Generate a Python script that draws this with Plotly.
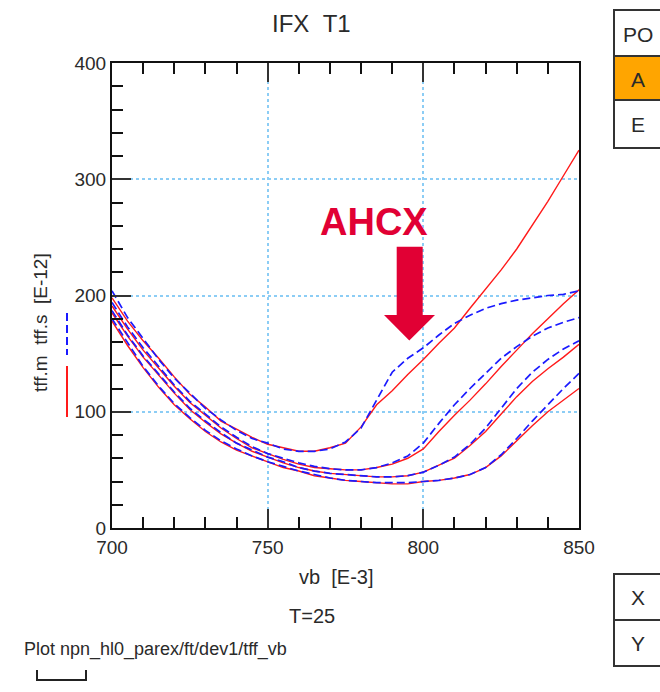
import plotly.graph_objects as go

# ---------------- data ----------------
vb = [700, 705, 710, 715, 720, 725, 730, 735, 740, 745, 750, 755, 760, 765, 770, 775,
      780, 785, 790, 795, 800, 805, 810, 815, 820, 825, 830, 835, 840, 845, 850]

tff_m_1 = [198, 178, 161, 146, 130, 115, 104, 92, 85, 78, 72, 69, 66, 66, 69, 73,
           87, 106, 118, 132, 145, 159, 172, 189, 205, 222, 240, 260, 281, 303, 325]
tff_s_1 = [204, 181, 163, 145, 129, 116, 103, 93, 84, 77, 73, 68, 66, 66, 68, 74,
           86, 110, 134, 146, 155, 166, 176, 183, 189, 193, 196, 198, 200, 201, 204]

tff_m_2 = [191, 171, 153, 137, 122, 108, 97, 86, 77, 69, 64, 59, 55, 52, 51, 50,
           50, 52, 55, 60, 68, 83, 97, 110, 124, 139, 153, 167, 180, 193, 205]
tff_s_2 = [194, 173, 155, 139, 123, 109, 98, 87, 78, 70, 64, 60, 56, 53, 51, 50,
           50, 52, 56, 62, 73, 90, 106, 120, 133, 146, 156, 165, 172, 177, 181]

tff_m_3 = [185, 165, 147, 131, 116, 102, 91, 81, 73, 66, 61, 56, 52, 49, 47, 46,
           45, 44, 44, 45, 48, 54, 60, 71, 83, 98, 113, 126, 137, 147, 158]
tff_s_3 = [187, 166, 148, 132, 117, 103, 92, 82, 73, 67, 61, 57, 52, 49, 47, 46,
           45, 44, 44, 45, 48, 54, 61, 72, 86, 103, 120, 134, 145, 154, 161]

tff_m_4 = [178, 157, 138, 121, 106, 94, 83, 74, 67, 62, 57, 52, 49, 45, 43, 41,
           40, 39, 38, 38, 40, 41, 43, 46, 52, 62, 75, 88, 100, 110, 120]
tff_s_4 = [180, 159, 139, 122, 107, 95, 84, 75, 68, 62, 57, 53, 49, 46, 43, 41,
           40, 39, 39, 39, 40, 41, 43, 46, 52, 63, 77, 92, 106, 120, 133]

measured = [tff_m_1, tff_m_2, tff_m_3, tff_m_4]
simulated = [tff_s_1, tff_s_2, tff_s_3, tff_s_4]

x_ticks = [700, 750, 800, 850]
y_ticks = [0, 100, 200, 300, 400]

# ---------------- layout geometry helpers ----------------
W, H = 660, 692
L, R, T, B = 112, 81, 63, 164
PW, PH = W - L - R, H - T - B


def px(x):
    return (x - L) / PW


def py(y):
    return (H - B - y) / PH


FONT = "Liberation Sans, Arial, Helvetica, sans-serif"
TXT = "#2a2a2a"
RED = "#ff1a1a"
BLUE = "#1a1aff"
CRIMSON = "#e10034"

fig = go.Figure()

for m in measured:
    fig.add_trace(go.Scatter(x=vb, y=m, mode="lines", line=dict(color=RED, width=1.4),
                             showlegend=False, hoverinfo="skip"))
for s in simulated:
    fig.add_trace(go.Scatter(x=vb, y=s, mode="lines",
                             line=dict(color=BLUE, width=1.7, dash="8px,4px"),
                             showlegend=False, hoverinfo="skip"))

axis_common = dict(
    showline=True, linecolor="#111", linewidth=2,
    ticks="inside", tickcolor="#333", tickwidth=1.5, ticklen=19,
    showgrid=True, gridcolor="#8ccdf5", gridwidth=1.5, griddash="dot",
    zeroline=False,
    tickfont=dict(family=FONT, size=19, color=TXT),
)

fig.update_xaxes(**axis_common, range=[700, 850], tickvals=x_ticks,
                 mirror="ticks", ticklabelstandoff=1,
                 minor=dict(dtick=10, ticks="inside", ticklen=11, tickwidth=2,
                            tickcolor="#111", showgrid=False))
fig.update_yaxes(**axis_common, range=[0, 400], tickvals=y_ticks,
                 mirror=True, ticklabelstandoff=0,
                 minor=dict(dtick=20, ticks="inside", ticklen=11, tickwidth=2,
                            tickcolor="#111", showgrid=False))

shapes = []
annotations = []

# arrow (AHCX)
arrow_path = (f"M {px(396.7)},{py(246.7)} L {px(422.7)},{py(246.7)} "
              f"L {px(422.7)},{py(315)} L {px(435)},{py(315)} "
              f"L {px(409.3)},{py(340.5)} L {px(384)},{py(315)} "
              f"L {px(396.7)},{py(315)} Z")
shapes.append(dict(type="path", xref="paper", yref="paper", path=arrow_path,
                   fillcolor=CRIMSON, line=dict(width=0)))
annotations.append(dict(text="<b>AHCX</b>", x=px(373.5), y=py(222), xref="paper", yref="paper",
                        showarrow=False, xanchor="center", yanchor="middle",
                        font=dict(family=FONT, size=38, color=CRIMSON)))

# y-axis title and legend glyphs
annotations.append(dict(text="tff.m\u00a0\u00a0tff.s\u00a0\u00a0[E-12]", textangle=-90,
                        x=px(40), y=py(323), xref="paper", yref="paper", showarrow=False,
                        xanchor="center", yanchor="middle",
                        font=dict(family=FONT, size=19, color=TXT)))
shapes.append(dict(type="line", xref="paper", yref="paper", x0=px(67), x1=px(67),
                   y0=py(313), y1=py(355), line=dict(color=BLUE, width=2, dash="8px,4px")))
shapes.append(dict(type="line", xref="paper", yref="paper", x0=px(67), x1=px(67),
                   y0=py(366), y1=py(417), line=dict(color=RED, width=2)))

# titles / captions
annotations.append(dict(text="IFX\u00a0\u00a0T1", x=px(311), y=py(23), xref="paper", yref="paper",
                        showarrow=False, xanchor="center", yanchor="middle",
                        font=dict(family=FONT, size=24, color=TXT)))
annotations.append(dict(text="vb\u00a0\u00a0[E-3]", x=px(336), y=py(577), xref="paper", yref="paper",
                        showarrow=False, xanchor="center", yanchor="middle",
                        font=dict(family=FONT, size=20, color=TXT)))
annotations.append(dict(text="T=25", x=px(311.5), y=py(616), xref="paper", yref="paper",
                        showarrow=False, xanchor="center", yanchor="middle",
                        font=dict(family=FONT, size=20, color=TXT)))
annotations.append(dict(text="Plot npn_hl0_parex/ft/dev1/tff_vb", x=px(22), y=py(649),
                        xref="paper", yref="paper", showarrow=False,
                        xanchor="left", yanchor="middle",
                        font=dict(family=FONT, size=18, color=TXT)))
shapes.append(dict(type="path", xref="paper", yref="paper",
                   path=f"M {px(37)},{py(670)} L {px(37)},{py(680)} L {px(86)},{py(680)} L {px(86)},{py(670)}",
                   line=dict(color="#222", width=2)))

# right side buttons
btn_x0, btn_x1 = px(614), px(664)
po_cells = [("PO", 10, 56, "white"), ("A", 56, 100, "#ffa500"), ("E", 100, 148, "white")]
for label, y0, y1, fill in po_cells:
    shapes.append(dict(type="rect", xref="paper", yref="paper", x0=btn_x0, x1=btn_x1,
                       y0=py(y1), y1=py(y0), fillcolor=fill, line=dict(color="#333", width=2)))
    annotations.append(dict(text=label, x=px(637.5), y=py((y0 + y1) / 2 + 1), xref="paper",
                            yref="paper", showarrow=False, xanchor="center", yanchor="middle",
                            font=dict(family=FONT, size=21, color=TXT)))
xy_cells = [("X", 574, 620), ("Y", 620, 666)]
for label, y0, y1 in xy_cells:
    shapes.append(dict(type="rect", xref="paper", yref="paper", x0=btn_x0, x1=btn_x1,
                       y0=py(y1), y1=py(y0), fillcolor="white", line=dict(color="#333", width=2)))
    annotations.append(dict(text=label, x=px(637.5), y=py((y0 + y1) / 2), xref="paper",
                            yref="paper", showarrow=False, xanchor="center", yanchor="middle",
                            font=dict(family=FONT, size=21, color=TXT)))

fig.update_layout(
    width=W, height=H,
    margin=dict(l=L, r=R, t=T, b=B, pad=0),
    paper_bgcolor="white", plot_bgcolor="white",
    showlegend=False,
    shapes=shapes, annotations=annotations,
    font=dict(family=FONT, color=TXT),
)

fig.write_html("out.html", config={"displayModeBar": False},
               post_script="document.body.style.margin='0';document.body.style.padding='0';"
                           "document.body.style.overflow='hidden';")
